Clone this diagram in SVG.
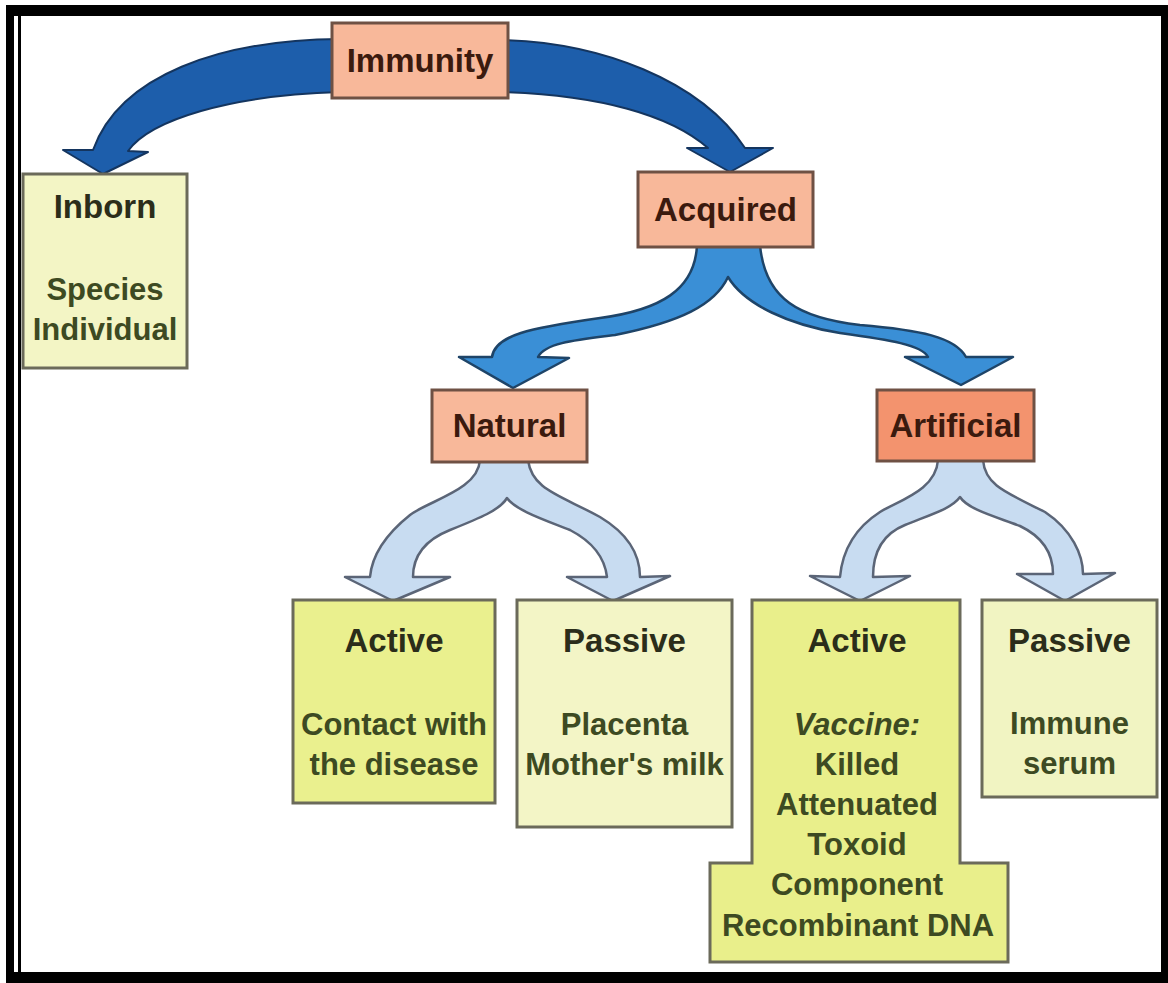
<svg xmlns="http://www.w3.org/2000/svg" width="1168" height="983" viewBox="0 0 1168 983">
<style>
text{font-family:"Liberation Sans",Arial,sans-serif;font-weight:bold;text-anchor:middle}
.h{font-size:33px}
.c{font-size:31px}
.ob{stroke:#6f5144;stroke-width:3}
.yb{stroke:#6b6a5a;stroke-width:3}
.ot{fill:#3b1a0e}
.yh{fill:#2b2d1a}
.yc{fill:#3d4a22}
.dark{fill:#1d5eab;stroke:#14355f;stroke-width:2;stroke-linejoin:round}
.mid{fill:#3a8fd6;stroke:#1e4468;stroke-width:2.5;stroke-linejoin:round}
.light{fill:#c8dcf1;stroke:#5b6577;stroke-width:2.5;stroke-linejoin:round}
</style>
<rect width="1168" height="983" fill="#ffffff"/>
<g id="frame" fill="#000">
<rect x="6" y="5" width="1162" height="11"/>
<rect x="6" y="972" width="1162" height="11"/>
<rect x="6" y="5" width="8" height="978"/>
<rect x="18" y="16" width="3" height="956"/>
<rect x="1161" y="5" width="7" height="978"/>
</g>
<g id="connectors">
<path class="dark" d="M 340 39 C 220 40, 120 75, 93 150 L 63 150 L 103 174 L 148 152 L 128 151 C 150 120, 230 95, 340 92 Z"/>
<path class="dark" d="M 500 40 C 600 42, 700 80, 745 148 L 773 148 L 730 172 L 687 148 L 708 148 C 670 115, 600 95, 500 92 Z"/>
<path class="mid" d="M 697 245 C 695 290, 660 310, 600 318 C 530 328, 495 335, 492 357 L 459 357 L 513 388 L 569 358 L 538 357 C 545 343, 575 340, 615 335 C 680 322, 715 305, 728 277 C 745 305, 790 325, 840 333 C 890 340, 922 345, 928 357 L 905 357 L 961 385 L 1013 357 L 966 357 C 955 337, 920 330, 860 325 C 800 318, 765 300, 760 245 Z"/>
<path class="light" d="M 480 460 C 478 490, 430 500, 410 515 C 385 535, 372 555, 370 577 L 345 577 L 393 601 L 450 577 L 413 577 C 413 555, 425 540, 450 530 C 480 518, 500 510, 507 498 C 515 510, 545 520, 570 530 C 595 543, 605 560, 607 577 L 567 577 L 613 601 L 670 576 L 640 577 C 640 557, 630 535, 600 517 C 560 495, 532 490, 528 460 Z"/>
<path class="light" d="M 938 460 C 936 490, 900 500, 880 512 C 852 530, 842 555, 840 577 L 810 576 L 860 601 L 910 576 L 873 577 C 873 555, 880 535, 905 525 C 935 513, 952 508, 960 497 C 968 510, 1000 518, 1020 526 C 1045 538, 1053 555, 1053 574 L 1017 574 L 1065 601 L 1115 573 L 1083 574 C 1083 555, 1072 530, 1045 512 C 1005 492, 985 485, 983 460 Z"/>
</g>
<g id="immunity">
<rect class="ob" x="332" y="23" width="176" height="75" fill="#f8b89a"/>
<text class="h ot" x="420" y="72">Immunity</text>
</g>
<g id="inborn">
<rect class="yb" x="23" y="174" width="164" height="194" fill="#f3f5c5"/>
<text class="h yh" x="105" y="218">Inborn</text>
<text class="c yc" x="105" y="300">Species</text>
<text class="c yc" x="105" y="340">Individual</text>
</g>
<g id="acquired">
<rect class="ob" x="638" y="172" width="175" height="75" fill="#f8b89a"/>
<text class="h ot" x="725.5" y="221">Acquired</text>
</g>
<g id="natural">
<rect class="ob" x="432" y="390" width="155" height="72" fill="#f8b89a"/>
<text class="h ot" x="509.5" y="437">Natural</text>
</g>
<g id="artificial">
<rect class="ob" x="877" y="390" width="157" height="71" fill="#f3936e"/>
<text class="h ot" x="955.5" y="437">Artificial</text>
</g>
<g id="natural-active">
<rect class="yb" x="293" y="600" width="202" height="203" fill="#eaf08e"/>
<text class="h yh" x="394" y="652">Active</text>
<text class="c yc" x="394" y="735">Contact with</text>
<text class="c yc" x="394" y="775">the disease</text>
</g>
<g id="natural-passive">
<rect class="yb" x="517" y="600" width="215" height="227" fill="#f3f5c6"/>
<text class="h yh" x="624.5" y="652">Passive</text>
<text class="c yc" x="624.5" y="735">Placenta</text>
<text class="c yc" x="624.5" y="775">Mother's milk</text>
</g>
<g id="artificial-active">
<path class="yb" d="M 752 600 L 960 600 L 960 863 L 1008 863 L 1008 962 L 710 962 L 710 863 L 752 863 Z" fill="#e9ef8b"/>
<text class="h yh" x="857" y="652">Active</text>
<text class="c yc" x="857" y="735" font-style="italic">Vaccine:</text>
<text class="c yc" x="857" y="775">Killed</text>
<text class="c yc" x="857" y="815">Attenuated</text>
<text class="c yc" x="857" y="855">Toxoid</text>
<text class="c yc" x="857" y="895">Component</text>
<text class="c yc" x="858" y="936">Recombinant DNA</text>
</g>
<g id="artificial-passive">
<rect class="yb" x="982" y="600" width="175" height="197" fill="#f1f4c2"/>
<text class="h yh" x="1069.5" y="652">Passive</text>
<text class="c yc" x="1069.5" y="734">Immune</text>
<text class="c yc" x="1069.5" y="774">serum</text>
</g>
</svg>
